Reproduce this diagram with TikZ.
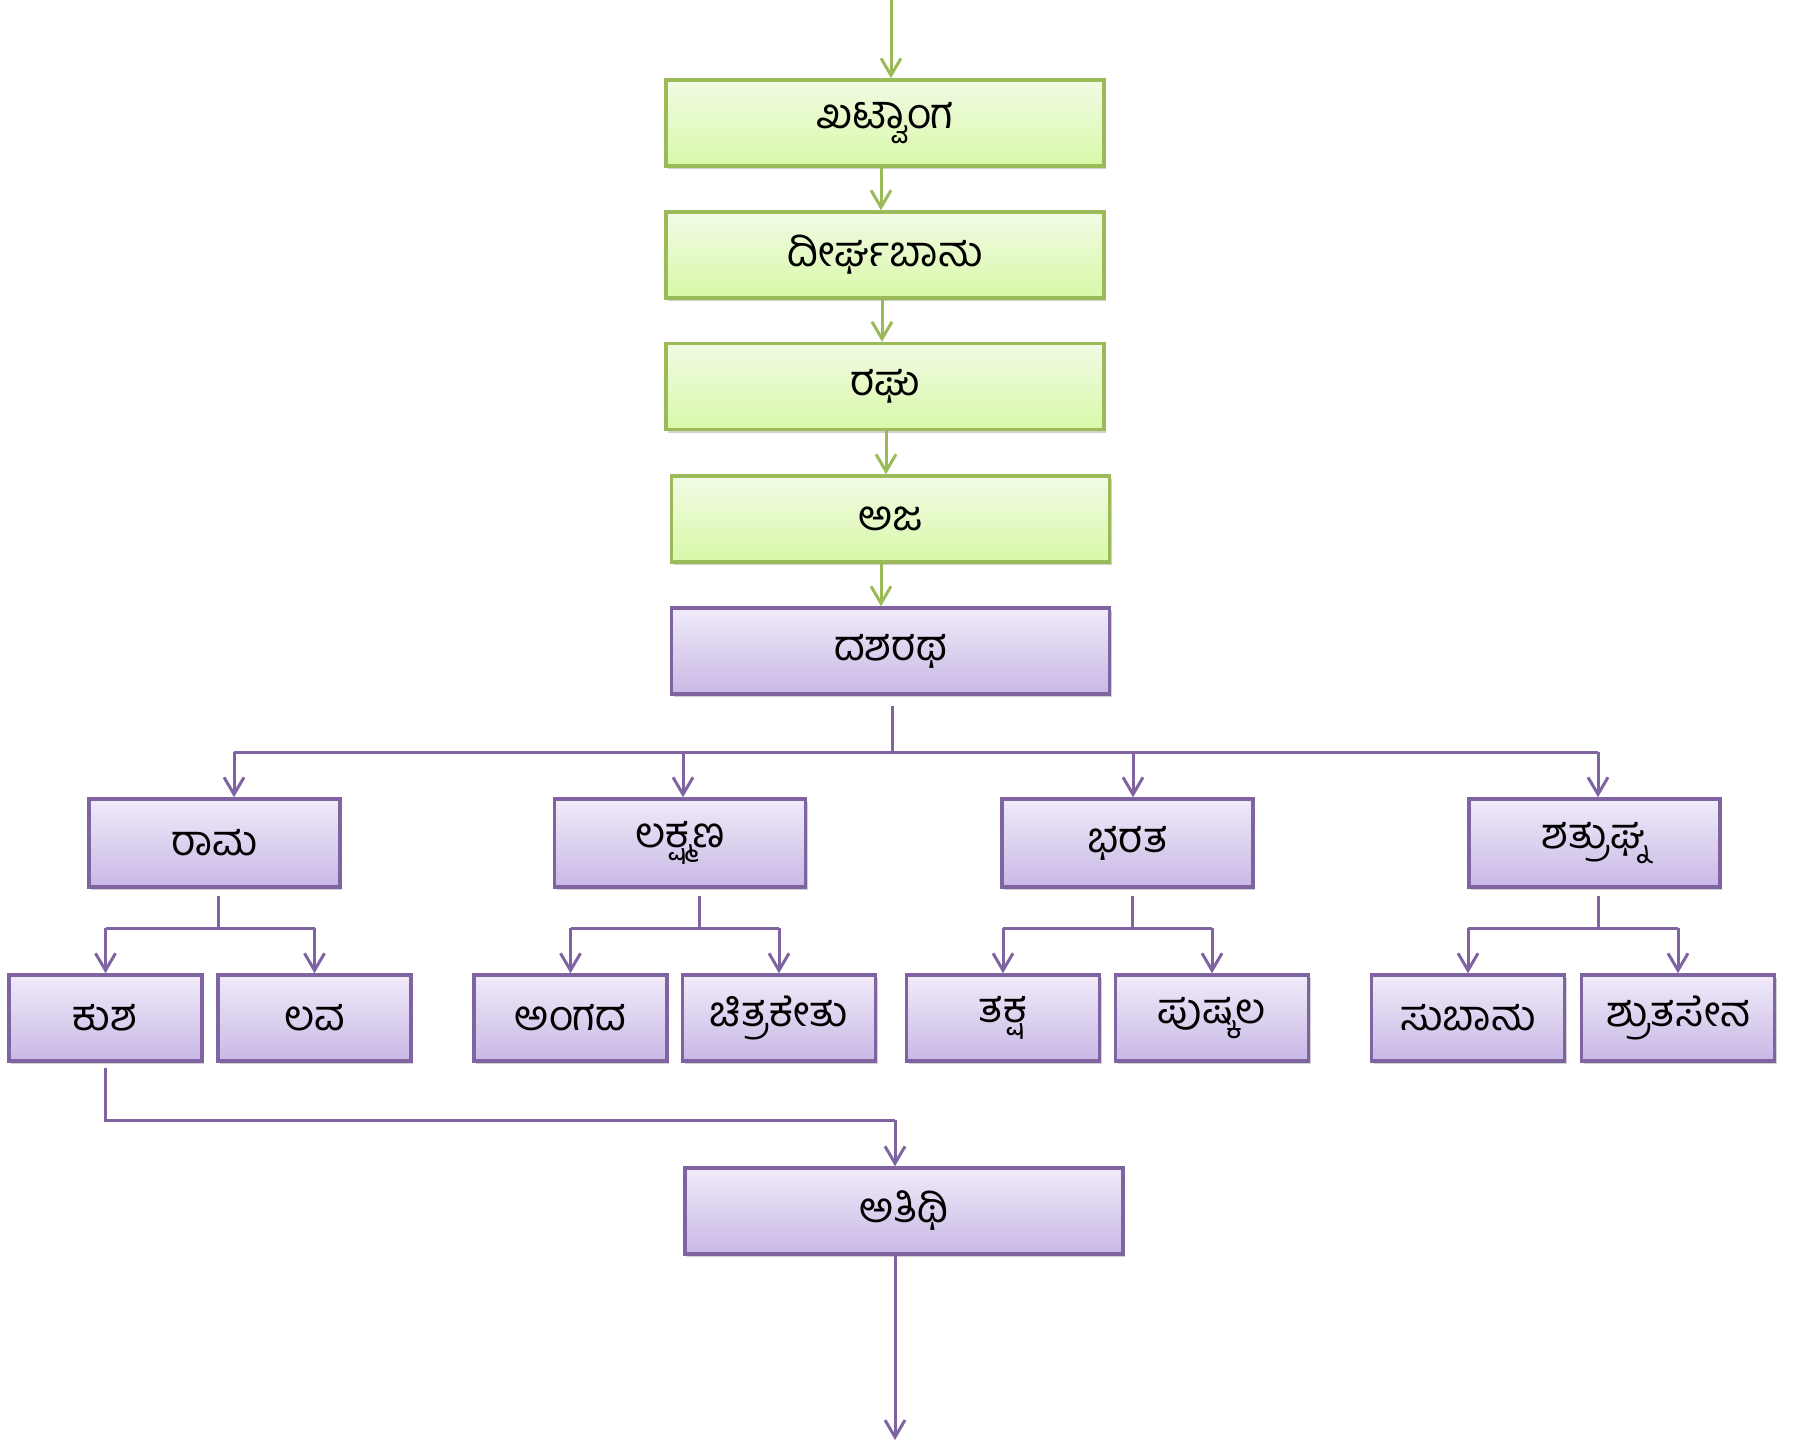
\documentclass[tikz,border=0pt]{standalone}
\usepackage{fontspec}
\newfontfamily\kn[Script=Kannada]{Hind Mysuru}
\usetikzlibrary{arrows.meta,shadows}
\definecolor{gline}{HTML}{9BBB59}
\definecolor{pline}{HTML}{8064A2}
\definecolor{gtop}{HTML}{F1FBE4}
\definecolor{gbot}{HTML}{D9F8A8}
\definecolor{ptop}{HTML}{F0EBF9}
\definecolor{pbot}{HTML}{C8B8E5}
\tikzset{
  base/.style={rectangle, line width=3.5pt, inner sep=0pt, font=\kn\fontsize{42}{50}\selectfont,
    drop shadow={shadow xshift=2pt, shadow yshift=-3pt, opacity=0.3, fill=black!60}},
  gbox/.style={base, draw=gline, top color=gtop, bottom color=gbot, minimum width=438pt, minimum height=86pt},
  pbig/.style={base, draw=pline, top color=ptop, bottom color=pbot, minimum width=438pt, minimum height=86pt},
  pmid/.style={base, draw=pline, top color=ptop, bottom color=pbot, minimum width=251pt, minimum height=88pt},
  psml/.style={base, draw=pline, top color=ptop, bottom color=pbot, minimum width=193pt, minimum height=86pt},
  garr/.style={draw=gline, line width=3pt, -{Straight Barb[length=17pt,width=20pt,line width=3pt]}},
  parr/.style={draw=pline, line width=3pt, -{Straight Barb[length=17pt,width=20pt,line width=3pt]}},
  pline/.style={draw=pline, line width=3pt},
}
\begin{document}
\begin{tikzpicture}[x=1pt,y=-1pt]
\useasboundingbox (0,0) rectangle (1810,1440);
% green chain
\node[gbox] (b1) at (885,123) {ಖಟ್ವಾಂಗ};
\node[gbox] (b2) at (885,255) {ದೀರ್ಘಬಾಹು};
\node[gbox] (b3) at (885,386.5) {ರಘು};
\node[gbox] (b4) at (890.5,519) {ಅಜ};
\node[pbig] (b5) at (890.5,651) {ದಶರಥ};
% sons
\node[pmid] (rama) at (214.5,843) {ರಾಮ};
\node[pmid] (laks) at (680,843) {ಲಕ್ಷ್ಮಣ};
\node[pmid] (bhar) at (1127.5,843) {ಭರತ};
\node[pmid] (shat) at (1594.5,843) {ಶತ್ರುಘ್ನ};
% grandsons
\node[psml] (kusha) at (105.5,1018) {ಕುಶ};
\node[psml] (lava) at (314.5,1018) {ಲವ};
\node[psml] (anga) at (570.5,1018) {ಅಂಗದ};
\node[psml] (chit) at (779,1018) {ಚಿತ್ರಕೇತು};
\node[psml] (taks) at (1003,1018) {ತಕ್ಷ};
\node[psml] (push) at (1212,1018) {ಪುಷ್ಕಲ};
\node[psml] (suba) at (1468,1018) {ಸುಬಾಹು};
\node[psml] (shru) at (1678,1018) {ಶ್ರುತಸೇನ};
\node[pbig] (atit) at (904,1211) {ಅತಿಥಿ};
% coordinates
\coordinate (top) at (891,0);
\coordinate (bot) at (895,1440);
\coordinate (j0) at (892,752);
\coordinate (j1) at (218,928);
\coordinate (j2) at (699,928);
\coordinate (j3) at (1132,928);
\coordinate (j4) at (1598,928);
\coordinate (j5) at (895,1120);
% green arrows
\draw[garr] (top) -- (top |- b1.north);
\draw[garr] ([xshift=-4pt]b1.south) -- ([xshift=-4pt]b2.north);
\draw[garr] ([xshift=-3pt]b2.south) -- ([xshift=-3pt]b3.north);
\draw[garr] ([xshift=1pt]b3.south) -- ([xshift=1pt]b3.south |- b4.north);
\draw[garr] ([xshift=-9.5pt]b4.south) -- ([xshift=-9.5pt]b5.north);
% dasharatha to sons
\draw[pline] ([yshift=-10pt]b5.south -| j0) -- (j0);
\draw[pline] (j0) -- (j0 -| 234,0);
\draw[pline] (j0) -- (j0 -| 1598,0);
\draw[parr] (j0 -| 234,0) -- (rama.north -| 234,0);
\draw[parr] (j0 -| 683,0) -- (laks.north -| 683,0);
\draw[parr] (j0 -| 1133,0) -- (bhar.north -| 1133,0);
\draw[parr] (j0 -| 1598,0) -- (shat.north -| 1598,0);
% sons to grandsons
\draw[pline] ([yshift=-7pt]rama.south -| j1) -- (j1);
\draw[pline] (j1 -| kusha) -- (j1 -| lava);
\draw[parr] (j1 -| kusha) -- (kusha.north);
\draw[parr] (j1 -| lava) -- (lava.north);
\draw[pline] ([yshift=-7pt]laks.south -| j2) -- (j2);
\draw[pline] (j2 -| anga) -- (j2 -| chit);
\draw[parr] (j2 -| anga) -- (anga.north);
\draw[parr] (j2 -| chit) -- (chit.north);
\draw[pline] ([yshift=-7pt]bhar.south -| j3) -- (j3);
\draw[pline] (j3 -| taks) -- (j3 -| push);
\draw[parr] (j3 -| taks) -- (taks.north);
\draw[parr] (j3 -| push) -- (push.north);
\draw[pline] ([yshift=-7pt]shat.south -| j4) -- (j4);
\draw[pline] (j4 -| suba) -- (j4 -| shru);
\draw[parr] (j4 -| suba) -- (suba.north);
\draw[parr] (j4 -| shru) -- (shru.north);
% kusha to atithi
\draw[pline] ([yshift=-5pt]kusha.south) -- (kusha.south |- j5) -- (j5);
\draw[parr] (j5) -- (j5 |- atit.north);
\draw[parr] (atit.south -| bot) -- (bot);
\end{tikzpicture}
\end{document}
